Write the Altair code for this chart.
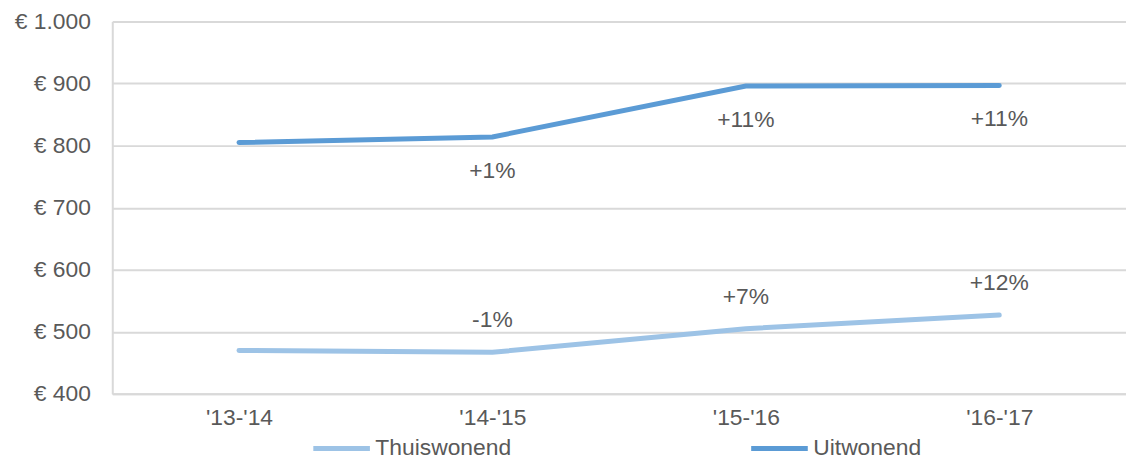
import altair as alt
import pandas as pd

years = ["'13-'14", "'14-'15", "'15-'16", "'16-'17"]
thuis = [470, 467, 505, 527]
uit = [805, 814, 896, 897]
thuis_pct = ["", "-1%", "+7%", "+12%"]
uit_pct = ["", "+1%", "+11%", "+11%"]
series = ["Thuiswonend", "Uitwonend"]
colors = ["#9DC3E6", "#5B9BD5"]

rows = []
for i, y in enumerate(years):
    rows.append({"jaar": y, "serie": series[0], "bedrag": thuis[i], "pct": thuis_pct[i]})
    rows.append({"jaar": y, "serie": series[1], "bedrag": uit[i], "pct": uit_pct[i]})
df = pd.DataFrame(rows)

FONT = "Liberation Sans"
TXT = "#595959"

x = alt.X("jaar:N", sort=years, title=None,
          scale=alt.Scale(paddingInner=0, paddingOuter=0),
          axis=alt.Axis(labelAngle=0, ticks=False, labelPadding=13, labelFontSize=23,
                        labelColor=TXT, labelFont=FONT, domainColor="#D9D9D9", domainWidth=2))
y = alt.Y("bedrag:Q", title=None,
          scale=alt.Scale(domain=[400, 1000], nice=False, zero=False),
          axis=alt.Axis(values=[400, 500, 600, 700, 800, 900, 1000], ticks=False, labelPadding=22,
                        labelFontSize=23, labelColor=TXT, labelFont=FONT,
                        labelExpr="'€ ' + replace(format(datum.value, ',d'), ',', '.')",
                        gridColor="#D9D9D9", gridWidth=2, domainColor="#D9D9D9", domainWidth=2))

color = alt.Color("serie:N", sort=series, title=None,
                  scale=alt.Scale(domain=series, range=colors),
                  legend=alt.Legend(orient="none", legendX=200, legendY=399, direction="horizontal",
                                    symbolType="stroke", symbolSize=3249, symbolStrokeWidth=5,
                                    labelFontSize=23, labelColor=TXT, labelFont=FONT,
                                    labelOffset=3, columnPadding=231))

lines = alt.Chart(df).mark_line(strokeWidth=5, strokeCap="round").encode(x=x, y=y, color=color)

lab_uit = alt.Chart(df).transform_filter(alt.datum.serie == "Uitwonend").mark_text(
    dy=34, fontSize=23, font=FONT, color=TXT).encode(x=x, y=y, text="pct:N")
lab_thuis = alt.Chart(df).transform_filter(alt.datum.serie == "Thuiswonend").mark_text(
    dy=-32, fontSize=23, font=FONT, color=TXT).encode(x=x, y=y, text="pct:N")

chart = alt.layer(lines, lab_uit, lab_thuis).properties(
    width=1021, height=375,
    autosize=alt.AutoSizeParams(type="none"),
    padding={"left": 105, "top": 12, "right": 0, "bottom": 65},
).configure_view(stroke=None).configure(background="white")

chart.save("out.html", embed_options={"renderer": "svg", "actions": False})
